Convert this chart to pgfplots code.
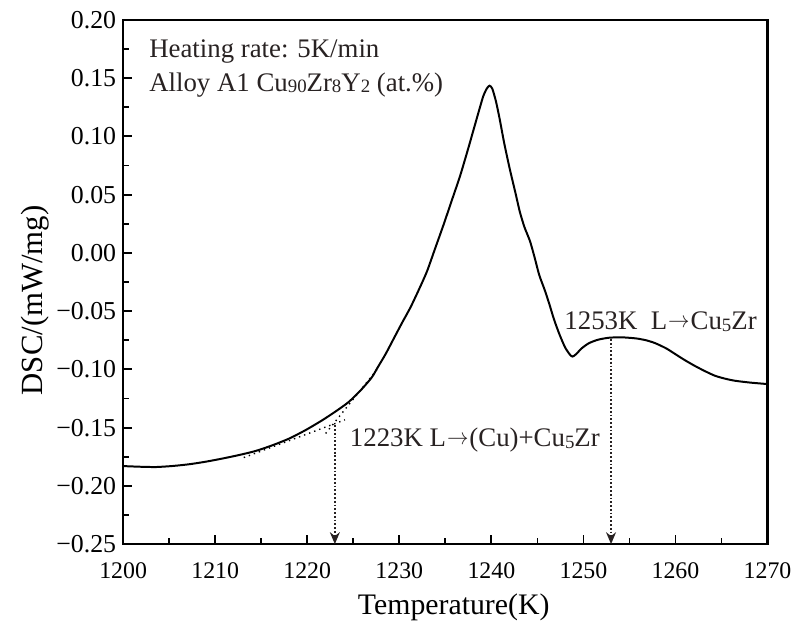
\documentclass[border=0pt]{standalone}
\usepackage{fontspec}
\setmainfont{Liberation Serif}
\usepackage{pgfplots}
\pgfplotsset{compat=1.18}
\usetikzlibrary{arrows.meta}
\definecolor{txt}{RGB}{40,34,34}
\newcommand{\sub}[1]{\raisebox{-0.1ex}{\fontsize{9.5}{10}\selectfont #1}}
\newcommand{\arr}{\hspace{0.5pt}\raisebox{0.2ex}{\scalebox{0.75}[0.8]{$\rightarrow$}}\hspace{0.5pt}}
\begin{document}
\begin{tikzpicture}
\begin{axis}[
  scale only axis,
  width=324.5pt, height=264pt,
  xmin=1200, xmax=1270, ymin=-0.25, ymax=0.20,
  xtick={1200,1210,...,1270},
  xticklabels={1200,1210,1220,1230,1240,1250,1260,1270},
  ytick={-0.25,-0.20,...,0.21},
  yticklabels={−0.25,−0.20,−0.15,−0.10,−0.05,0.00,0.05,0.10,0.15,0.20},
  minor x tick num=1, minor y tick num=1,
  xtick pos=bottom, ytick pos=left,
  tick align=inside,
  major tick length=4.5pt, minor tick length=3pt,
  axis line style={line width=1.3pt},
  every tick/.style={line width=0.9pt, black},
  xticklabel style={font=\fontsize{12}{12}\selectfont, yshift=-6pt},
  yticklabel style={font=\fontsize{13}{13}\selectfont},
  xlabel={Temperature(K)},
  ylabel={DSC/(mW/mg)},
  xlabel style={font=\fontsize{15}{16}\selectfont, at={(axis description cs:0.513,-0.121)}, anchor=center},
  ylabel style={font=\fontsize{15.5}{16}\selectfont, at={(axis description cs:-0.137,0.465)}, anchor=center},
  clip=false,
]
\addplot[black, line width=1pt, smooth, tension=0.4] coordinates {
(1200,-0.1830) (1202,-0.1836) (1203.6,-0.1838) (1205.4,-0.1829) (1207.2,-0.1814)
(1209,-0.1792) (1210.8,-0.1765) (1212.6,-0.1735) (1214.4,-0.1700) (1216.2,-0.1652)
(1218.0,-0.1595) (1219.8,-0.1522) (1221.6,-0.1438) (1223.1,-0.1360) (1224.5,-0.1280)
(1225.8,-0.1180) (1227.0,-0.1070) (1227.6,-0.0990) (1228.5,-0.0870) (1229.4,-0.0735)
(1230.3,-0.0600) (1231.2,-0.0470) (1232.1,-0.0320) (1233.0,-0.0160) (1233.9,0.0040)
(1234.8,0.0240) (1235.7,0.0450) (1236.6,0.0660) (1237.5,0.0900) (1238.4,0.1150)
(1239.1,0.1340) (1239.5,0.1410) (1239.8,0.1435) (1240.1,0.1410) (1240.5,0.1300)
(1240.9,0.1150) (1241.4,0.0940) (1242.0,0.0720) (1242.6,0.0520) (1243.1,0.0350)
(1243.6,0.0220) (1244.2,0.0100) (1244.7,-0.0040) (1245.2,-0.0190) (1245.8,-0.0320)
(1246.3,-0.0440) (1246.8,-0.0570) (1247.4,-0.0700) (1248.0,-0.0810) (1248.5,-0.0870)
(1248.8,-0.0890) (1249.2,-0.0870) (1249.8,-0.0820) (1250.6,-0.0775) (1251.6,-0.0745)
(1252.8,-0.0728) (1254.2,-0.0725) (1255.7,-0.0734) (1256.8,-0.0750) (1257.8,-0.0775)
(1259.0,-0.0820) (1260.0,-0.0870) (1261.0,-0.0920) (1262.1,-0.0970) (1263.2,-0.1015)
(1264.3,-0.1055) (1265.4,-0.1080) (1266.5,-0.1098) (1268.2,-0.1114) (1270,-0.1126)
};
% tangent construction lines
\addplot[black, dotted, line width=0.7pt] coordinates {(1213.1,-0.1757) (1224.1,-0.1433)};
\addplot[black, dotted, line width=0.7pt] coordinates {(1222.0,-0.1550) (1227.7,-0.0990)};
% onset arrows
\addplot[txt, densely dotted, line width=0.9pt, -{Stealth[length=6pt,width=5pt]}] coordinates {(1223.0,-0.1480) (1223.0,-0.2500)};
\addplot[txt, densely dotted, line width=0.9pt, -{Stealth[length=6pt,width=5pt]}] coordinates {(1253.0,-0.0740) (1253.0,-0.2500)};
% annotations
\node[txt, anchor=base west, inner sep=0pt, font=\fontsize{13.5}{14}\selectfont] at (axis cs:1202.8,0.1676) {Heating rate: 5K/min};
\node[txt, anchor=base west, inner sep=0pt, font=\fontsize{13.5}{14}\selectfont] at (axis cs:1202.8,0.1386) {Alloy A1 Cu\sub{90}Zr\sub{8}Y\sub{2} (at.\%)};
\node[txt, anchor=base west, inner sep=0pt, font=\fontsize{13.5}{14}\selectfont] at (axis cs:1247.9,-0.0660) {1253K\ \ L\arr Cu\sub{5}Zr};
\node[txt, anchor=base west, inner sep=0pt, font=\fontsize{13.5}{14}\selectfont] at (axis cs:1224.6,-0.1666) {1223K L\arr(Cu)+Cu\sub{5}Zr};
\end{axis}
\path[use as bounding box] (-62pt,-37pt) rectangle (337pt,274pt);
\end{tikzpicture}
\end{document}
